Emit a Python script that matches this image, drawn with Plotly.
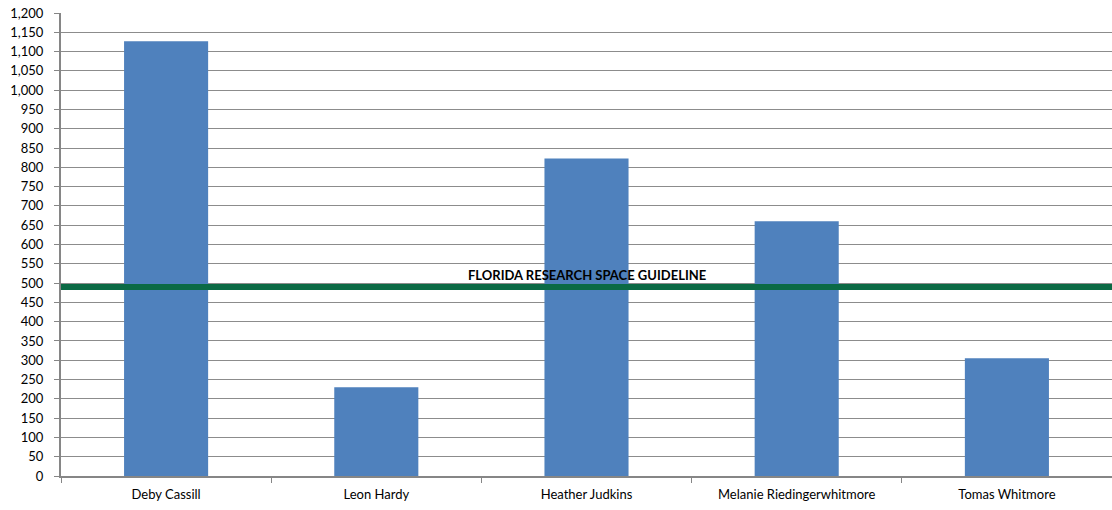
import plotly.graph_objects as go

categories = ["Deby Cassill", "Leon Hardy", "Heather Judkins", "Melanie Riedingerwhitmore", "Tomas Whitmore"]
values = [1127, 230, 823, 660, 305]
guideline_value = 490
guideline_label = "FLORIDA RESEARCH SPACE GUIDELINE"
y_ticks = list(range(0, 1201, 50))
y_tick_labels = [f"{v:,}" for v in y_ticks]

FONT = "Lato, Liberation Sans, sans-serif"

fig = go.Figure()
fig.add_trace(go.Bar(
    x=categories, y=values,
    marker=dict(color="#4F81BD", line=dict(width=0)),
    width=0.4,
))

fig.add_shape(type="line", xref="paper", x0=0, x1=1, yref="y",
              y0=guideline_value, y1=guideline_value,
              line=dict(color="#0B6A45", width=6), layer="above")
fig.add_annotation(x=0.5, xref="paper", y=guideline_value, yref="y",
                   text=f"<b>{guideline_label}</b>", showarrow=False,
                   yanchor="bottom", yshift=2,
                   font=dict(family=FONT, size=13, color="#000000"))

fig.update_layout(
    width=1112, height=510,
    margin=dict(l=61, r=0, t=13, b=34),
    paper_bgcolor="white", plot_bgcolor="white",
    showlegend=False,
    font=dict(family=FONT, size=13, color="#000000"),
    bargap=0.6,
)
fig.update_xaxes(
    showline=True, linecolor="#868686", linewidth=2,
    ticks="outside", tickson="boundaries", ticklen=5, tickcolor="#868686",
    showgrid=False, tickfont=dict(size=13), ticklabelstandoff=5,
)
fig.update_yaxes(
    range=[0, 1200], tickmode="array", tickvals=y_ticks, ticktext=y_tick_labels,
    showgrid=True, gridcolor="#8C8C8C", gridwidth=1,
    showline=True, linecolor="#868686", linewidth=2,
    ticks="outside", ticklen=5, tickcolor="#868686",
    zeroline=False, tickfont=dict(size=13), ticklabelstandoff=8,
)

fig.write_html("out.html", config={"displayModeBar": False},
               post_script="document.body.style.margin='0';")
